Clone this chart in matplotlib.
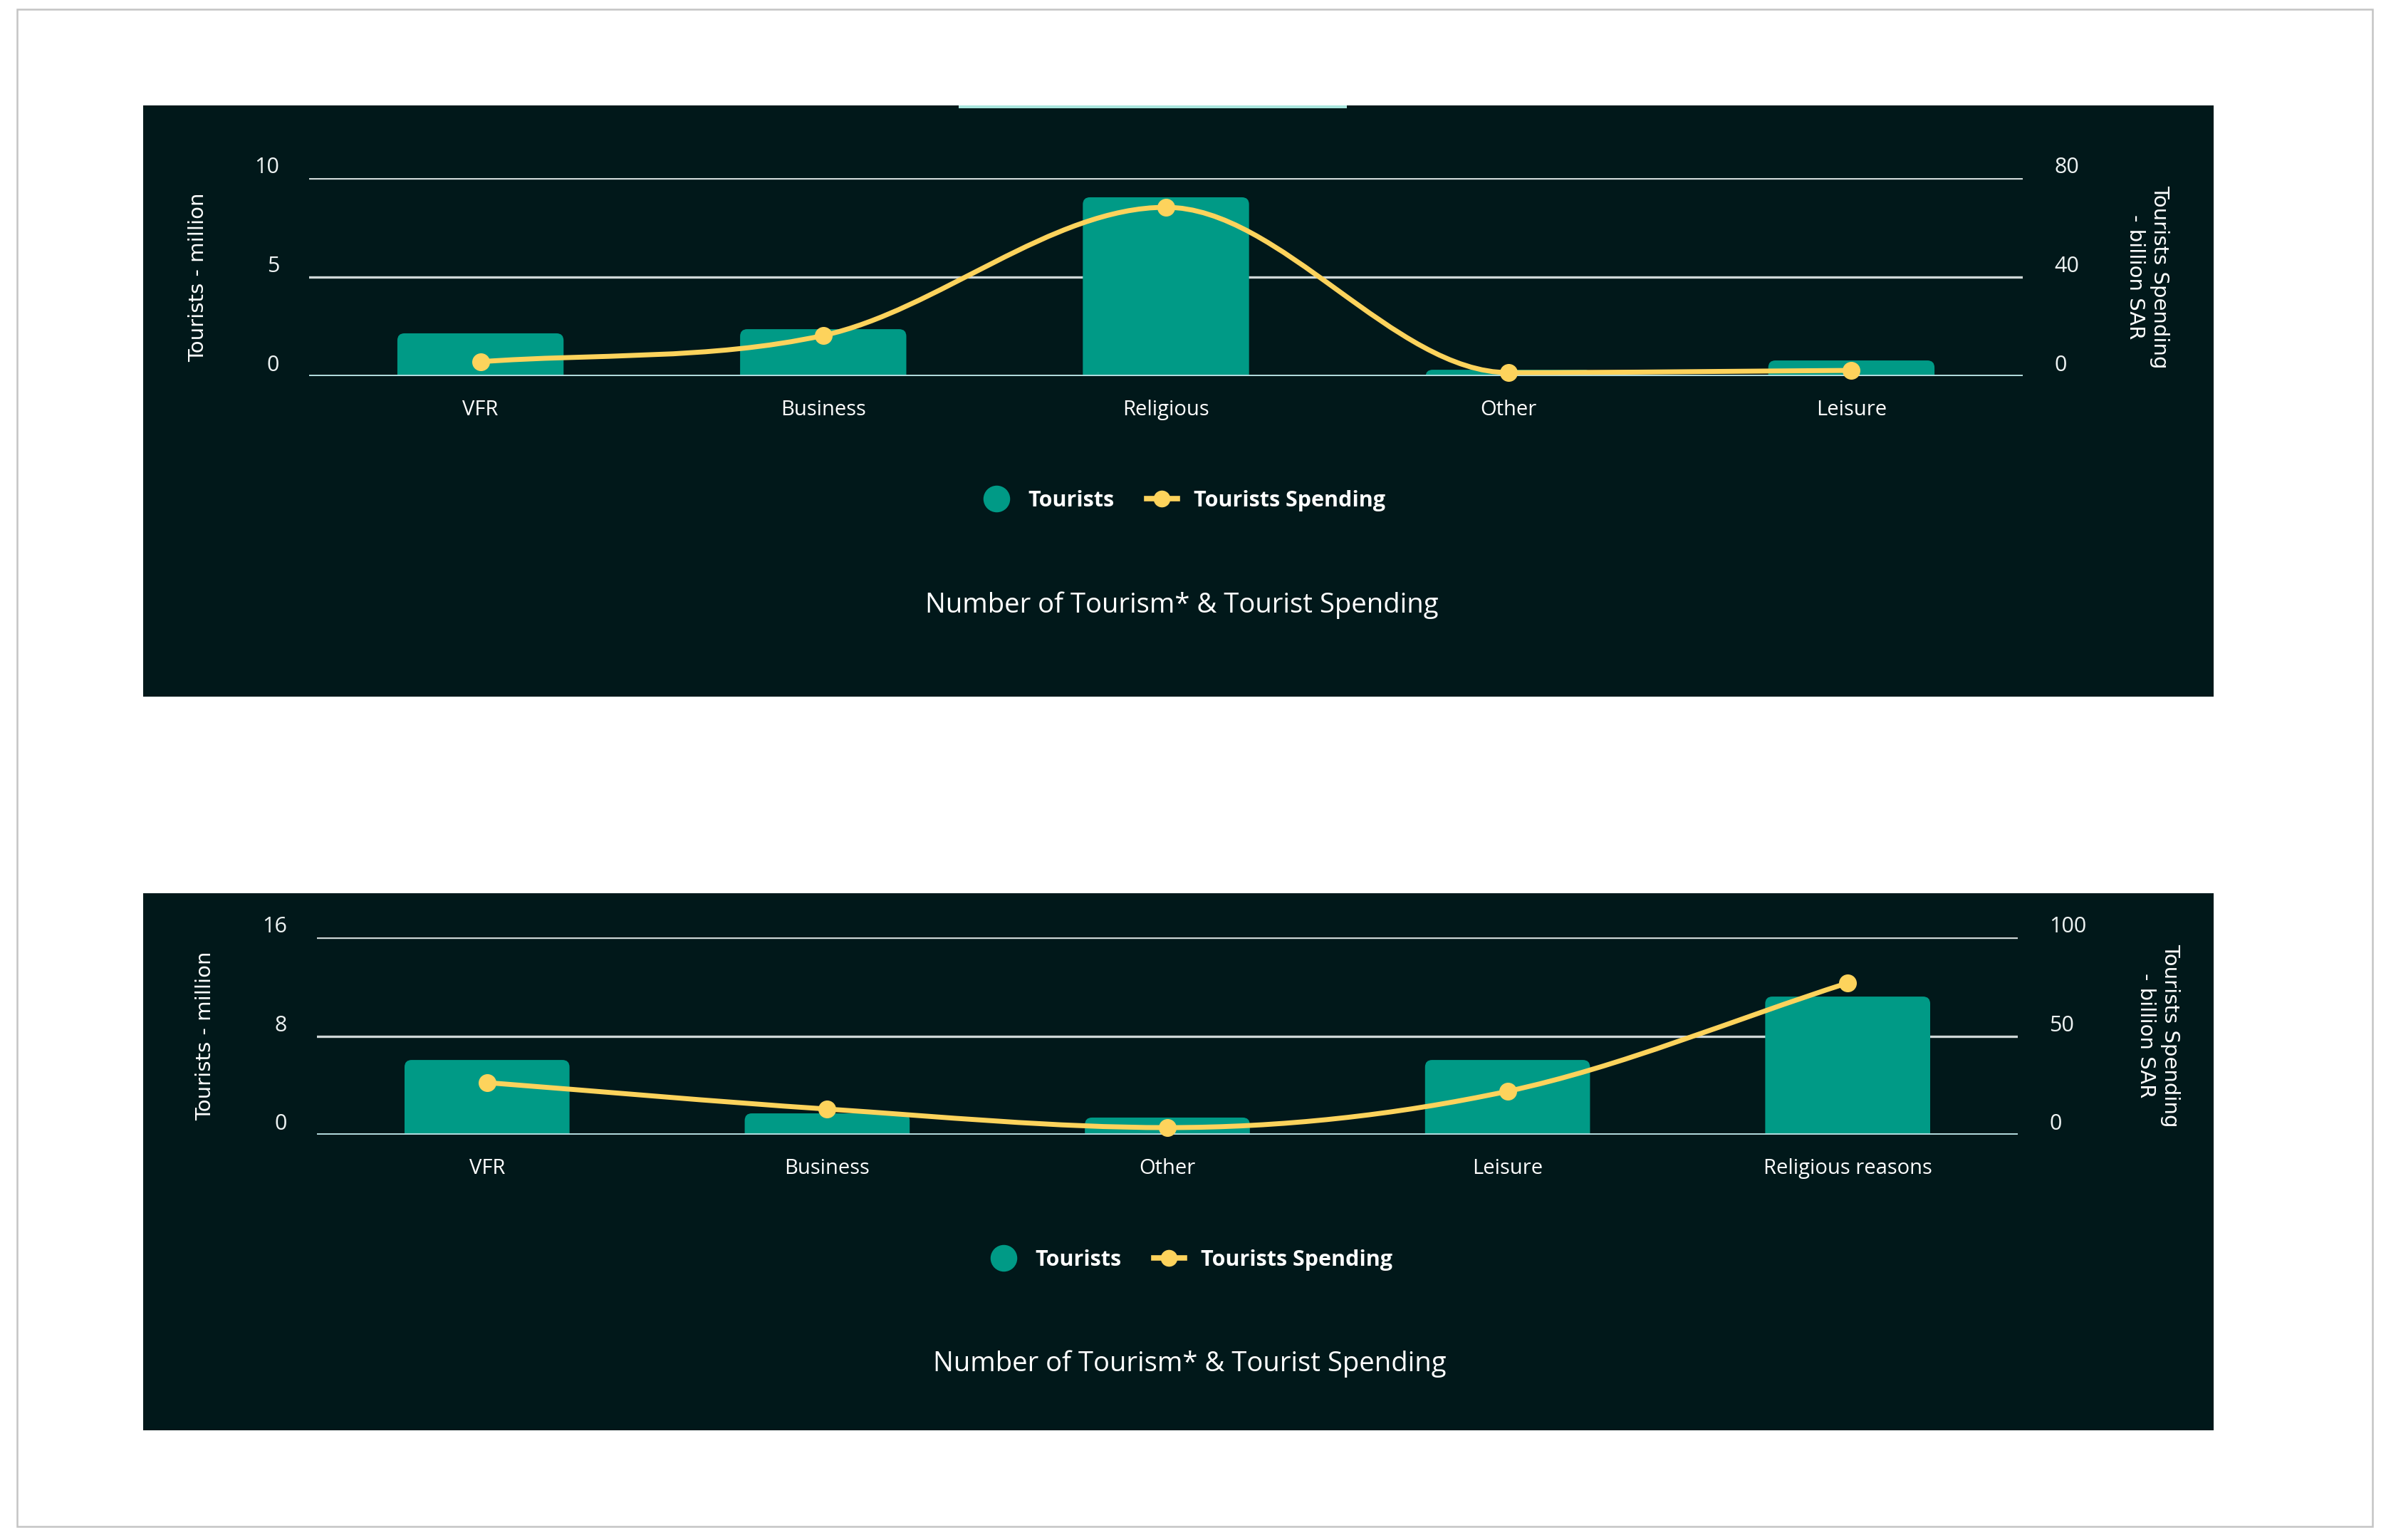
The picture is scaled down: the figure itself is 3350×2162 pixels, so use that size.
import numpy as np
import matplotlib
matplotlib.use("Agg")
import matplotlib.pyplot as plt
from matplotlib.patches import Rectangle, FancyBboxPatch, PathPatch
from matplotlib.path import Path
from matplotlib.lines import Line2D

# ---- data ----
top_categories = ["VFR", "Business", "Religious", "Other", "Leisure"]
top_tourists = [2.16, 2.37, 9.03, 0.32, 0.79]          # million
top_spending = [5.8, 16.4, 68.2, 1.4, 2.3]             # billion SAR
top_left_ticks = [0, 5, 10]
top_right_ticks = [0, 40, 80]

bottom_categories = ["VFR", "Business", "Other", "Leisure", "Religious reasons"]
bottom_tourists = [6.06, 1.73, 1.39, 6.06, 11.2]
bottom_spending = [26.4, 13.0, 3.6, 22.0, 76.9]
bottom_left_ticks = [0, 8, 16]
bottom_right_ticks = [0, 50, 100]

chart_title = "Number of Tourism* & Tourist Spending"
left_title = "Tourists - million"
right_title = "Tourists Spending\n- billion SAR"
legend_labels = ["Tourists", "Tourists Spending"]

# ---- style ----
BG = "#01181a"
TEAL = "#009a86"
YELLOW = "#fdd35c"
GRID = "#cfd7d7"
BASE = "#b4dde0"
TXT = "#eef3f3"

plt.rcParams["font.family"] = ["Open Sans", "DejaVu Sans"]

W, H = 3350, 2162
fig = plt.figure(figsize=(W / 100, H / 100), dpi=100, facecolor="white")


def box(x0, y0, x1, y1):
    # pixel box (top-left origin) -> figure fraction rect
    return [x0 / W, 1 - y1 / H, (x1 - x0) / W, (y1 - y0) / H]


def pt(x, y):
    return x / W, 1 - y / H


def monotone_path(xs, ys):
    # monotone cubic (Fritsch-Carlson) as bezier segments
    n = len(xs)
    d = [(ys[i + 1] - ys[i]) / (xs[i + 1] - xs[i]) for i in range(n - 1)]
    m = [0.0] * n
    m[0], m[-1] = d[0], d[-1]
    for i in range(1, n - 1):
        m[i] = 0.0 if d[i - 1] * d[i] <= 0 else (d[i - 1] + d[i]) / 2
    for i in range(n - 1):
        if d[i] == 0:
            m[i] = m[i + 1] = 0.0
            continue
        a, b = m[i] / d[i], m[i + 1] / d[i]
        s = a * a + b * b
        if s > 9:
            t = 3 / np.sqrt(s)
            m[i], m[i + 1] = t * a * d[i], t * b * d[i]
    verts, codes = [(xs[0], ys[0])], [Path.MOVETO]
    for i in range(n - 1):
        h = (xs[i + 1] - xs[i]) / 3
        verts += [(xs[i] + h, ys[i] + m[i] * h),
                  (xs[i + 1] - h, ys[i + 1] - m[i + 1] * h),
                  (xs[i + 1], ys[i + 1])]
        codes += [Path.CURVE4] * 3
    return Path(verts, codes)


def draw_panel(panel, axbox, cats, tourists, spending, lticks, rticks,
               ltitle_xy, rtitle_xy, legend_xy, title_xy):
    fig.patches.append(Rectangle((panel[0], panel[1]), panel[2], panel[3],
                                 transform=fig.transFigure, fc=BG, ec="none", zorder=-2))
    ax = fig.add_axes(axbox)
    ax.set_facecolor("none")
    x = np.arange(len(cats))
    ax.set_xlim(-0.5, len(cats) - 0.5)
    ax.set_ylim(0, lticks[-1])

    # bars with rounded top corners
    p0 = ax.transData.transform((0, 0))
    p1 = ax.transData.transform((1, 1))
    rx = 10 / (p1[0] - p0[0])
    ry = 10 / (p1[1] - p0[1])
    bw = 0.485
    for xi, h in zip(x, tourists):
        ax.add_patch(FancyBboxPatch((xi - bw / 2, -ry), bw, h + ry,
                                    boxstyle=f"round,pad=0,rounding_size={rx}",
                                    mutation_aspect=ry / rx,
                                    fc=TEAL, ec="none", zorder=2))

    ax.set_yticks(lticks)
    ax.grid(axis="y", color=GRID, lw=2.4)
    ax.set_axisbelow(True)
    ax.axhline(0, color=BASE, lw=2.8, zorder=3)
    ax.set_xticks(x, cats)
    ax.tick_params(axis="x", length=0, pad=24, labelsize=21, labelcolor="white")
    ax.tick_params(axis="y", length=0, pad=30, labelsize=22, labelcolor=TXT)
    for lbl in ax.get_yticklabels():
        lbl.set_va("bottom")
    for s in ax.spines.values():
        s.set_visible(False)

    ax2 = ax.twinx()
    ax2.set_ylim(0, rticks[-1])
    ax2.set_yticks(rticks)
    ax2.tick_params(axis="y", length=0, pad=32, labelsize=22, labelcolor=TXT)
    for lbl in ax2.get_yticklabels():
        lbl.set_va("bottom")
    for s in ax2.spines.values():
        s.set_visible(False)
    ax2.add_patch(PathPatch(monotone_path(x, spending), fill=False, ec=YELLOW,
                            lw=5, capstyle="round", zorder=4, clip_on=False))
    ax2.plot(x, spending, "o", ms=17, color=YELLOW, zorder=5, clip_on=False)

    fig.text(*pt(*ltitle_xy), left_title, rotation=90, ha="center", va="center",
             color="white", fontsize=21, family=["DejaVu Sans"])
    fig.text(*pt(*rtitle_xy), right_title, rotation=270, ha="center", va="center",
             multialignment="center", linespacing=1.3,
             color="white", fontsize=21, family=["DejaVu Sans"])

    handles = [Line2D([], [], marker="o", ls="none", color=TEAL, ms=26),
               Line2D([], [], marker="o", color=YELLOW, lw=5.5, ms=16)]
    fig.legend(handles, legend_labels, loc="center", bbox_to_anchor=pt(*legend_xy),
               ncol=2, frameon=False, labelcolor="white",
               prop={"family": "Open Sans", "weight": "bold", "size": 22},
               handlelength=1.4, handletextpad=0.75, columnspacing=1.5)
    fig.text(*pt(*title_xy), chart_title, ha="center", va="center",
             color="white", fontsize=27.5)


# outer frame and tab strip
fig.patches.append(Rectangle((24 / W, 1 - 2143 / H), 3307 / W, 2130 / H,
                             transform=fig.transFigure, fill=False,
                             ec="#c4c4c4", lw=1.8, zorder=-3))

draw_panel(box(201, 148, 3108, 978), box(434, 250, 2840, 528),
           top_categories, top_tourists, top_spending,
           top_left_ticks, top_right_ticks,
           (278, 389), (3015, 389), (1661, 703), (1659, 850))
fig.patches.append(Rectangle((1346 / W, 1 - 152 / H), 545 / W, 4 / H,
                             transform=fig.transFigure, fc="#a8e4dc", ec="none", zorder=-1))

draw_panel(box(201, 1254, 3108, 2008), box(445, 1316, 2833, 1593),
           bottom_categories, bottom_tourists, bottom_spending,
           bottom_left_ticks, bottom_right_ticks,
           (288, 1454), (3030, 1454), (1671, 1769), (1670, 1915))

fig.savefig("out.png", dpi=100, facecolor="white")
